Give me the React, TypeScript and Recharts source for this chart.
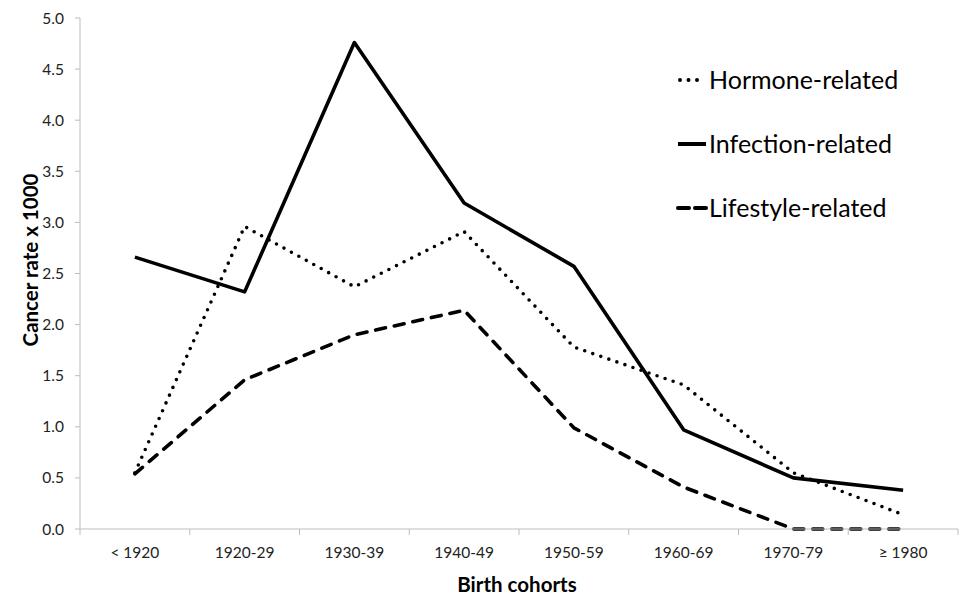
import React from "react";
import {
  LineChart,
  Line,
  XAxis,
  YAxis,
} from "recharts";

const cohorts = ["< 1920", "1920-29", "1930-39", "1940-49", "1950-59", "1960-69", "1970-79", "≥ 1980"];
const hormone = [0.55, 2.96, 2.37, 2.91, 1.78, 1.41, 0.55, 0.14];
const infection = [2.66, 2.32, 4.76, 3.19, 2.57, 0.97, 0.5, 0.38];
const lifestyle = [0.54, 1.46, 1.9, 2.14, 0.99, 0.41, 0, 0];
const yTicks = [0, 0.5, 1, 1.5, 2, 2.5, 3, 3.5, 4, 4.5, 5];

const data = cohorts.map((c, i) => ({
  cohort: c,
  hormone: hormone[i],
  infection: infection[i],
  lifestyle: lifestyle[i],
}));

const W = 961;
const H = 595;
const margin = { top: 18, right: 3, left: 0, bottom: 0 };
const yAxisWidth = 80;
const xAxisHeight = 66;
const band = (W - margin.left - margin.right - yAxisWidth) / cohorts.length;
const axisY = H - margin.bottom - xAxisHeight;
const FONT = "Lato, 'Open Sans', sans-serif";
const AXIS = "#bdbdbd";

const styles = {
  hormone: { dash: "0 8.5", cap: "round" as const, label: "Hormone-related" },
  infection: { dash: undefined, cap: "butt" as const, label: "Infection-related" },
  lifestyle: { dash: "10 9", cap: "round" as const, label: "Lifestyle-related" },
};

function XTick(props: any) {
  const { x, payload, index } = props;
  return (
    <g>
      <line x1={x - band / 2} x2={x - band / 2} y1={axisY} y2={axisY + 6} stroke={AXIS} />
      {index === cohorts.length - 1 && (
        <line x1={x + band / 2} x2={x + band / 2} y1={axisY} y2={axisY + 6} stroke={AXIS} />
      )}
      <text x={x} y={axisY + 29} textAnchor="middle" fontSize={15.5} fill="#222" fontFamily={FONT}>
        {payload.value}
      </text>
    </g>
  );
}

function LegendBox() {
  const keys = ["hormone", "infection", "lifestyle"] as const;
  return (
    <svg width={280} height={170} style={{ position: "absolute", left: 670, top: 55 }}>
      {keys.map((k, i) => {
        const s = styles[k];
        const cy = 25 + i * 64;
        return (
          <g key={k}>
            <line
              x1={k === "hormone" ? 10 : 8}
              x2={k === "hormone" ? 34 : 36}
              y1={cy}
              y2={cy}
              stroke="#000"
              strokeWidth={4}
              strokeDasharray={k === "lifestyle" ? "11 6" : s.dash}
              strokeLinecap={s.cap}
            />
            <text x={39} y={cy + 8.5} fontSize={25} fontFamily={FONT} fill="#000">
              {s.label}
            </text>
          </g>
        );
      })}
    </svg>
  );
}

const titleStyle = { fontFamily: FONT, fontWeight: 700, fontSize: 20.5, fill: "#000" };

export default function App() {
  return (
    <div style={{ position: "absolute", left: 0, top: 0, width: W, height: H, background: "#fff" }}>
      <LineChart width={W} height={H} data={data} margin={margin}>
        <XAxis
          dataKey="cohort"
          scale="band"
          height={xAxisHeight}
          tickLine={false}
          axisLine={{ stroke: AXIS }}
          tick={<XTick />}
          interval={0}
          label={{
            content: () => (
              <text x={517} y={584} textAnchor="middle" dominantBaseline="central" style={titleStyle}>
                Birth cohorts
              </text>
            ),
          }}
        />
        <YAxis
          width={yAxisWidth}
          domain={[0, 5]}
          ticks={yTicks}
          interval={0}
          tickFormatter={(v: number) => v.toFixed(1)}
          tickSize={5}
          tickMargin={11}
          tickLine={{ stroke: AXIS }}
          axisLine={{ stroke: AXIS }}
          tick={{ fontSize: 15.5, fill: "#222", fontFamily: FONT }}
          label={{
            content: () => (
              <text
                x={30}
                y={260}
                transform="rotate(-90 30 260)"
                textAnchor="middle"
                dominantBaseline="central"
                style={titleStyle}
              >
                Cancer rate x 1000
              </text>
            ),
          }}
        />
        {(["hormone", "infection", "lifestyle"] as const).map((k) => (
          <Line
            key={k}
            type="linear"
            dataKey={k}
            stroke="#000"
            strokeWidth={3.6}
            strokeDasharray={styles[k].dash}
            strokeLinecap={styles[k].cap}
            strokeLinejoin="round"
            dot={false}
            activeDot={false}
            isAnimationActive={false}
          />
        ))}
      </LineChart>
      <LegendBox />
    </div>
  );
}
